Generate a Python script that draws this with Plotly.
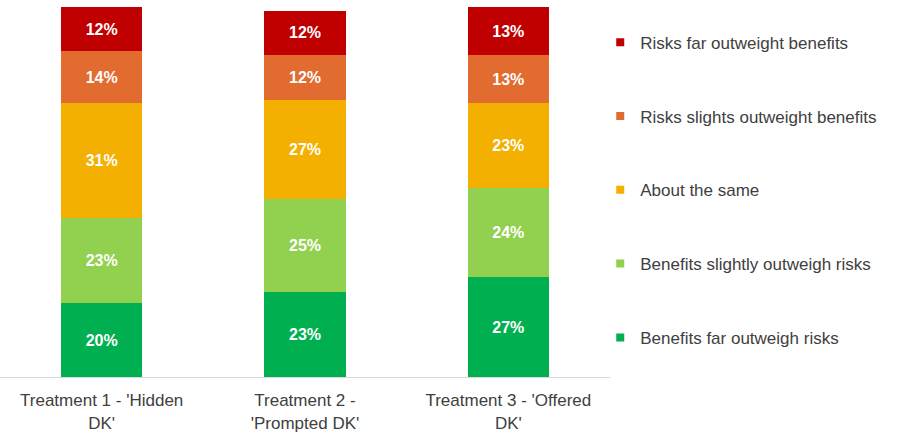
import plotly.graph_objects as go

# Survey answers: perceived balance of risks and benefits, by treatment
treatments = [
    "Treatment 1 - 'Hidden<br>DK'",
    "Treatment 2 -<br>'Prompted DK'",
    "Treatment 3 - 'Offered<br>DK'",
]

# Response categories, bottom of the stack first
categories = [
    "Benefits far outweigh risks",
    "Benefits slightly outweigh risks",
    "About the same",
    "Risks slights outweight benefits",
    "Risks far outweight benefits",
]

benefits_far = [20, 23, 27]
benefits_slightly = [23, 25, 24]
about_same = [31, 27, 23]
risks_slightly = [14, 12, 13]
risks_far = [12, 12, 13]

series_values = [benefits_far, benefits_slightly, about_same, risks_slightly, risks_far]
colors = ["#00B050", "#92D050", "#F4B000", "#E26B2F", "#C00000"]

FONT = "Liberation Sans, Arial, sans-serif"
TEXT_COLOR = "#404040"

fig = go.Figure()

for name, vals, col in zip(categories, series_values, colors):
    fig.add_trace(go.Bar(
        x=treatments,
        y=vals,
        name=name,
        marker=dict(color=col, line=dict(width=0)),
        width=0.4,
        text=[f"{v}%" for v in vals],
        textposition="inside",
        insidetextanchor="middle",
        textfont=dict(family=FONT, size=16, color="white", weight="bold"),
        showlegend=False,
        hoverinfo="skip",
    ))

# Legend entries with small square swatches, top of the stack listed first
for i, (name, col) in enumerate(zip(categories[::-1], colors[::-1])):
    fig.add_trace(go.Scatter(
        x=[None], y=[None],
        mode="markers",
        name=name,
        marker=dict(symbol="square", size=8, color=col),
        legendgroup=f"g{i}",
        showlegend=True,
    ))

fig.update_layout(
    width=908,
    height=434,
    barmode="stack",
    plot_bgcolor="white",
    paper_bgcolor="white",
    margin=dict(l=0, r=298, t=7, b=57),
    font=dict(family=FONT, size=17, color=TEXT_COLOR),
    legend=dict(
        x=0.984, xanchor="left",
        y=0.505, yanchor="middle",
        traceorder="grouped",
        tracegroupgap=48.7,
        font=dict(family=FONT, size=17, color=TEXT_COLOR),
        bgcolor="rgba(0,0,0,0)",
    ),
    xaxis=dict(
        showline=True,
        linecolor="#D9D9D9",
        linewidth=1,
        ticks="",
        showgrid=False,
        ticklabelstandoff=8,
        tickfont=dict(family=FONT, size=17, color=TEXT_COLOR),
    ),
    yaxis=dict(
        range=[0, 100],
        visible=False,
        showgrid=False,
        zeroline=False,
    ),
)

fig.write_html("out.html")
